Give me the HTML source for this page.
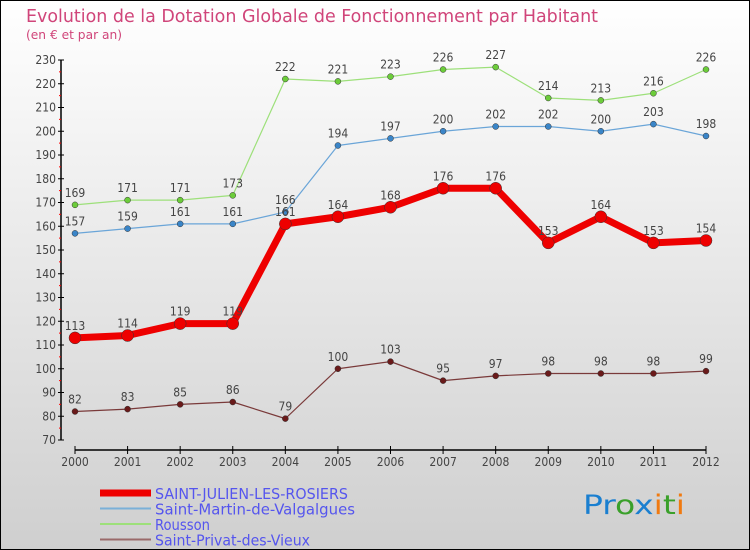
<!DOCTYPE html>
<html><head><meta charset="utf-8"><style>
body{margin:0}
svg{display:block;font-family:"DejaVu Sans Condensed","Liberation Sans",sans-serif}
</style></head><body>
<svg id="c" width="750" height="550" xmlns="http://www.w3.org/2000/svg">
<defs><linearGradient id="bg" x1="0" y1="0" x2="0" y2="1"><stop offset="0" stop-color="#ffffff"/><stop offset="1" stop-color="#cfcfcf"/></linearGradient></defs>
<rect x="0.5" y="0.5" width="749" height="549" fill="url(#bg)" stroke="#000"/>
<text x="26" y="22" font-size="18" fill="#d0457a" textLength="572" lengthAdjust="spacingAndGlyphs">Evolution de la Dotation Globale de Fonctionnement par Habitant</text>
<text x="26" y="39" font-size="12" fill="#d0457a" textLength="96" lengthAdjust="spacingAndGlyphs">(en € et par an)</text>
<g id="axes"></g><g id="series"></g><g id="legend"></g>
<text x="583" y="514" font-size="27" textLength="102" lengthAdjust="spacingAndGlyphs"><tspan fill="#1a7fd0">Pr</tspan><tspan fill="#3aa02a">o</tspan><tspan fill="#1a7fd0">x</tspan><tspan fill="#f07a10">i</tspan><tspan fill="#3aa02a">t</tspan><tspan fill="#f07a10">i</tspan></text>
</svg>
<script>
const years=[2000,2001,2002,2003,2004,2005,2006,2007,2008,2009,2010,2011,2012];
const yTicks=[70,80,90,100,110,120,130,140,150,160,170,180,190,200,210,220,230];
const seriesNames=["SAINT-JULIEN-LES-ROSIERS","Saint-Martin-de-Valgalgues","Rousson","Saint-Privat-des-Vieux"];
const legendLen=[193,200,55,155];
const stJulien=[113,114,119,119,161,164,168,176,176,153,164,153,154];
const stMartin=[157,159,161,161,166,194,197,200,202,202,200,203,198];
const rousson=[169,171,171,173,222,221,223,226,227,214,213,216,226];
const stPrivat=[82,83,85,86,79,100,103,95,97,98,98,98,99];
const NS="http://www.w3.org/2000/svg";
const xS=i=>75+i*(706-75)/(years.length-1);
const yS=v=>440-(v-70)*(380/160);
function mk(t,a,p){const e=document.createElementNS(NS,t);for(const k in a)e.setAttribute(k,a[k]);p.appendChild(e);return e;}
const ax=document.getElementById('axes');
let l=mk('line',{x1:61,y1:60,x2:61,y2:440,stroke:'#000','stroke-width':1.5},ax);


yTicks.forEach((v,i)=>{const y=yS(v);
 mk('line',{x1:58,y1:y,x2:64,y2:y,stroke:'#000'},ax);
 if(i<yTicks.length-1)mk('line',{x1:59,y1:y-11.9,x2:61,y2:y-11.9,stroke:'#f00'},ax);
 const t=mk('text',{x:56,y:y+4,'text-anchor':'end','font-size':12,fill:'#444'},ax);t.textContent=v;
 
 });
l=mk('line',{x1:75,y1:450,x2:706,y2:450,stroke:'#000','stroke-width':1.5},ax);


years.forEach((yr,i)=>{const x=xS(i);
 mk('line',{x1:x,y1:446,x2:x,y2:454,stroke:'#000'},ax);
 const t=mk('text',{x:x,y:466,'text-anchor':'middle','font-size':12,fill:'#444'},ax);t.textContent=yr;
 
 });
const sg=document.getElementById('series');
function draw(vals,color,w,r,name,dot){
 const g=mk('g',{},sg);
 
 
 mk('polyline',{points:vals.map((v,i)=>xS(i)+','+yS(v)).join(' '),fill:'none',stroke:color,'stroke-width':w,'stroke-linejoin':'round'},g);
 vals.forEach((v,i)=>{const c=mk('circle',{cx:xS(i),cy:yS(v),r:r,fill:dot,stroke:'#333','stroke-width':0.5},g);
  
  
  const t=mk('text',{x:xS(i),y:yS(v)-8,'text-anchor':'middle','font-size':12,fill:'#444'},g);t.textContent=v;
  
  });
}
draw(stPrivat,'#7a3a3a',1.2,3,'series-saint-privat','#6a1a1a');
draw(rousson,'#9de07a',1.2,3,'series-rousson','#6ccc3a');
draw(stMartin,'#6aa5d8',1.2,3,'series-saint-martin','#3a85c8');
draw(stJulien,'#ee0000',7,6,'series-saint-julien','#ee0000');
const lg=document.getElementById('legend');
const lc=['#ee0000','#7ab0d8','#9de07a','#9a6a6a'],lw=[7,2,2,2];
seriesNames.forEach((n,i)=>{const y=493+i*15.5;
 const g=mk('g',{},lg);
 
 
 mk('line',{x1:100,y1:y,x2:151,y2:y,stroke:lc[i],'stroke-width':lw[i]},g);
 const t=mk('text',{x:155,y:y+6,'font-size':15,fill:'#5555ee',textLength:legendLen[i],lengthAdjust:'spacingAndGlyphs'},g);t.textContent=n;});
</script>
</body></html>
